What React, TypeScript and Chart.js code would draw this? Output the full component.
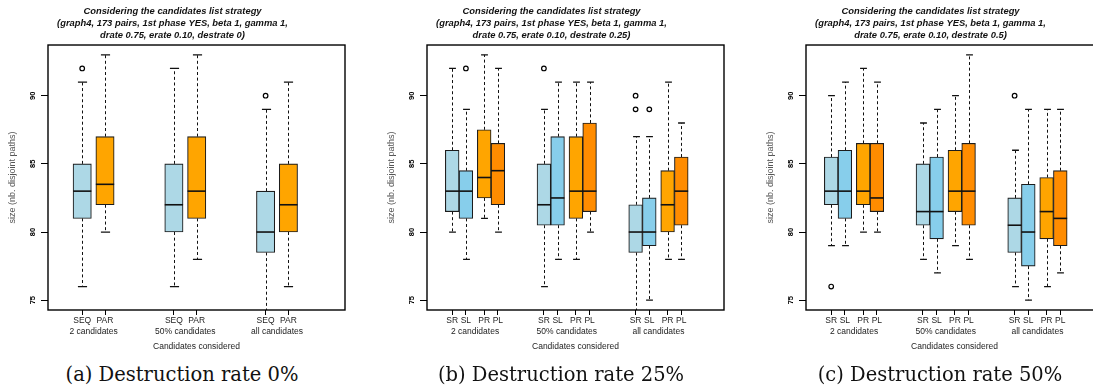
import React, { useEffect, useRef } from 'react';
import { Chart, registerables } from 'chart.js';

Chart.register(...registerables);
Chart.defaults.font.family = '"Liberation Sans", Arial, Helvetica, sans-serif';

// ---------------- data ----------------
const GROUPS = ['2 candidates', '50% candidates', 'all candidates'];
const Y_TICKS = [75, 80, 85, 90];
const Y_MIN = 74.28;
const Y_MAX = 93.72;
const TITLE_LINE1 = 'Considering the candidates list strategy';
const TITLE_LINE2 = '(graph4, 173 pairs, 1st phase YES, beta 1, gamma 1,';

// [lower whisker, Q1, median, Q3, upper whisker] per group
const A_SEQ = [[76, 81, 83, 85, 91], [76, 80, 82, 85, 92], [74, 78.5, 80, 83, 89]];
const A_PAR = [[80, 82, 83.5, 87, 93], [78, 81, 83, 87, 93], [76, 80, 82, 85, 91]];
const A_SEQ_OUT = [[92], [], [90]];
const A_PAR_OUT = [[], [], []];

const B_SR = [[80, 81.5, 83, 86, 92], [76, 80.5, 82, 85, 89], [74, 78.5, 80, 82, 87]];
const B_SL = [[78, 81, 83, 84.5, 89], [78, 80.5, 82.5, 87, 91], [75, 79, 80, 82.5, 87]];
const B_PR = [[81, 82.5, 84, 87.5, 93], [78, 81, 83, 87, 91], [78, 80, 82, 84.5, 91]];
const B_PL = [[80, 82, 84.5, 86.5, 92], [80, 81.5, 83, 88, 91], [78, 80.5, 83, 85.5, 88]];
const B_SR_OUT = [[], [92], [90, 89]];
const B_SL_OUT = [[92], [], [89]];
const B_PR_OUT = [[], [], []];
const B_PL_OUT = [[], [], []];

const C_SR = [[79, 82, 83, 85.5, 90], [78, 80.5, 81.5, 85, 88], [76, 78.5, 80.5, 82.5, 86]];
const C_SL = [[79, 81, 83, 86, 91], [77, 79.5, 81.5, 85.5, 89], [75, 77.5, 80, 83.5, 89]];
const C_PR = [[80, 82, 83, 86.5, 92], [79, 81.5, 83, 86, 90], [76, 79.5, 81.5, 84, 89]];
const C_PL = [[80, 81.5, 82.5, 86.5, 91], [78, 80.5, 83, 86.5, 93], [77, 79, 81, 84.5, 89]];
const C_SR_OUT = [[76], [], [90]];
const C_SL_OUT = [[], [], []];
const C_PR_OUT = [[], [], []];
const C_PL_OUT = [[], [], []];

// ---------------- layout ----------------
const FRAME_W = 297;
const GROUP_STEP = 91.7;
const PAIR_OFFSETS = [34.2, 57.0];
const QUAD_OFFSETS = [25.2, 38.9, 57.2, 70.9];
const AXIS_W = 48;
const CANVAS_W = AXIS_W * 2 + FRAME_W;
const CANVAS_H = 360;

const LIGHTBLUE = '#ADD8E6';
const SKYBLUE = '#87CEEB';
const ORANGE = '#FFA500';
const DARKORANGE = '#FF8C00';

type Method = { label: string; color: string; stats: number[][]; out: number[][] };
type PanelDef = { left: number; line3: string; caption: string; boxWidth: number; offsets: number[]; methods: Method[] };

const PANELS: PanelDef[] = [
  {
    left: 0, line3: 'drate 0.75, erate 0.10, destrate 0)', caption: '(a) Destruction rate 0%', boxWidth: 18.3, offsets: PAIR_OFFSETS,
    methods: [
      { label: 'SEQ', color: LIGHTBLUE, stats: A_SEQ, out: A_SEQ_OUT },
      { label: 'PAR', color: ORANGE, stats: A_PAR, out: A_PAR_OUT },
    ],
  },
  {
    left: 379, line3: 'drate 0.75, erate 0.10, destrate 0.25)', caption: '(b) Destruction rate 25%', boxWidth: 13.7, offsets: QUAD_OFFSETS,
    methods: [
      { label: 'SR', color: LIGHTBLUE, stats: B_SR, out: B_SR_OUT },
      { label: 'SL', color: SKYBLUE, stats: B_SL, out: B_SL_OUT },
      { label: 'PR', color: ORANGE, stats: B_PR, out: B_PR_OUT },
      { label: 'PL', color: DARKORANGE, stats: B_PL, out: B_PL_OUT },
    ],
  },
  {
    left: 758, line3: 'drate 0.75, erate 0.10, destrate 0.5)', caption: '(c) Destruction rate 50%', boxWidth: 13.7, offsets: QUAD_OFFSETS,
    methods: [
      { label: 'SR', color: LIGHTBLUE, stats: C_SR, out: C_SR_OUT },
      { label: 'SL', color: SKYBLUE, stats: C_SL, out: C_SL_OUT },
      { label: 'PR', color: ORANGE, stats: C_PR, out: C_PR_OUT },
      { label: 'PL', color: DARKORANGE, stats: C_PL, out: C_PL_OUT },
    ],
  },
];

function Panel({ p }: { p: PanelDef }) {
  const ref = useRef<HTMLCanvasElement>(null);
  useEffect(() => {
    const pos = (gi: number, mi: number) => gi * GROUP_STEP + p.offsets[mi];
    const tickPos: number[] = [];
    const tickLabels: string[] = [];
    GROUPS.forEach((_, gi) => p.methods.forEach((m, mi) => { tickPos.push(pos(gi, mi)); tickLabels.push(m.label); }));
    const groupPos = GROUPS.map((_, gi) => (pos(gi, 0) + pos(gi, p.methods.length - 1)) / 2);

    const datasets: any[] = p.methods.map((m, mi) => ({
      type: 'bar',
      label: m.label,
      data: m.stats.map((s, gi) => ({ x: pos(gi, mi), y: [s[1], s[3]] })),
      backgroundColor: m.color,
      borderColor: '#1c1c1c',
      borderWidth: 1.1,
      borderSkipped: false,
      barThickness: p.boxWidth,
      grouped: false,
    }));
    const outData: { x: number; y: number }[] = [];
    p.methods.forEach((m, mi) => m.out.forEach((vals, gi) => vals.forEach((v) => outData.push({ x: pos(gi, mi), y: v }))));
    datasets.push({
      type: 'line',
      label: 'outliers',
      data: outData,
      showLine: false,
      pointStyle: 'circle',
      pointRadius: 2.3,
      pointBorderWidth: 1.2,
      pointBorderColor: '#000',
      pointBackgroundColor: 'rgba(0,0,0,0)',
      borderColor: '#000',
      backgroundColor: 'rgba(0,0,0,0)',
    });

    const extras = {
      id: 'boxExtras',
      beforeDatasetsDraw(chart: any) {
        const { ctx, chartArea: a, scales } = chart;
        const x = scales.x, y = scales.y;
        ctx.save();
        ctx.beginPath();
        ctx.rect(a.left, a.top, a.right - a.left, a.bottom - a.top);
        ctx.clip();
        ctx.strokeStyle = '#111';
        p.methods.forEach((m, mi) => m.stats.forEach((s, gi) => {
          const cx = Math.round(x.getPixelForValue(pos(gi, mi))) + 0.5;
          const yMin = y.getPixelForValue(s[0]);
          const yQ1 = y.getPixelForValue(s[1]);
          const yQ3 = y.getPixelForValue(s[3]);
          const yMax = y.getPixelForValue(s[4]);
          ctx.lineWidth = 1;
          ctx.setLineDash([3, 2.6]);
          ctx.beginPath();
          ctx.moveTo(cx, yQ3); ctx.lineTo(cx, yMax);
          ctx.moveTo(cx, yQ1); ctx.lineTo(cx, yMin);
          ctx.stroke();
          ctx.setLineDash([]);
          const hw = p.boxWidth / 4;
          ctx.lineWidth = 1.3;
          ctx.beginPath();
          ctx.moveTo(cx - hw, yMax); ctx.lineTo(cx + hw, yMax);
          ctx.moveTo(cx - hw, yMin); ctx.lineTo(cx + hw, yMin);
          ctx.stroke();
        }));
        ctx.restore();
      },
      afterDatasetsDraw(chart: any) {
        const { ctx, scales } = chart;
        const x = scales.x, y = scales.y;
        ctx.save();
        ctx.strokeStyle = '#111';
        ctx.lineWidth = 1.6;
        p.methods.forEach((m, mi) => m.stats.forEach((s, gi) => {
          const cx = x.getPixelForValue(pos(gi, mi));
          const ym = y.getPixelForValue(s[2]);
          ctx.beginPath();
          ctx.moveTo(cx - p.boxWidth / 2, ym);
          ctx.lineTo(cx + p.boxWidth / 2, ym);
          ctx.stroke();
        }));
        ctx.restore();
      },
      afterDraw(chart: any) {
        const { ctx, chartArea: a, scales } = chart;
        const y = scales.y;
        ctx.save();
        ctx.strokeStyle = '#000';
        ctx.lineWidth = 1.4;
        ctx.strokeRect(a.left, a.top, a.right - a.left, a.bottom - a.top);
        ctx.fillStyle = '#000';
        ctx.font = 'bold 7.5px "Liberation Sans", Arial, sans-serif';
        ctx.textAlign = 'center';
        ctx.textBaseline = 'middle';
        y.ticks.forEach((t: any) => {
          const py = y.getPixelForValue(t.value);
          ctx.save();
          ctx.translate(33, py);
          ctx.rotate(-Math.PI / 2);
          ctx.fillText(String(t.value), 0, 0);
          ctx.restore();
        });
        ctx.restore();
      },
    };

    const chart = new Chart(ref.current as HTMLCanvasElement, {
      type: 'bar',
      data: { datasets },
      plugins: [extras],
      options: {
        responsive: false,
        animation: false,
        devicePixelRatio: 1,
        layout: { padding: { left: 0, right: AXIS_W, top: 0, bottom: 0 } },
        plugins: {
          legend: { display: false },
          tooltip: { enabled: false },
          title: {
            display: true,
            text: [TITLE_LINE1, TITLE_LINE2, p.line3],
            color: '#111',
            font: { size: 9.4, weight: 'bold', style: 'italic', lineHeight: 1.245 },
            padding: { top: 6, bottom: 3.9 },
          },
        },
        scales: {
          x: {
            type: 'linear', position: 'bottom', min: 0, max: FRAME_W, offset: false, weight: 0, bounds: 'data',
            afterBuildTicks: (s: any) => { s.ticks = tickPos.map((v) => ({ value: v })); },
            afterFit: (s: any) => { s.height = 17; },
            ticks: {
              autoSkip: false, maxRotation: 0, minRotation: 0, padding: 1, color: '#222', font: { size: 8.5 },
              callback: (_v: any, i: number) => tickLabels[i],
            },
            grid: { drawOnChartArea: false, drawTicks: true, tickLength: 5, color: '#000', offset: false },
            border: { display: false },
          },
          x2: {
            type: 'linear', position: 'bottom', min: 0, max: FRAME_W, offset: false, weight: 1, bounds: 'data',
            afterBuildTicks: (s: any) => { s.ticks = groupPos.map((v) => ({ value: v })); },
            afterFit: (s: any) => { s.height = 33; },
            ticks: {
              autoSkip: false, maxRotation: 0, minRotation: 0, padding: 0, color: '#222', font: { size: 8.5 },
              callback: (_v: any, i: number) => GROUPS[i],
            },
            grid: { display: false, drawTicks: false },
            border: { display: false },
            title: {
              display: true, text: 'Candidates considered', color: '#222', font: { size: 8.5 },
              padding: { top: 0, bottom: 8.2 },
            },
          },
          y: {
            type: 'linear', position: 'left', min: Y_MIN, max: Y_MAX, beginAtZero: false, bounds: 'data',
            afterBuildTicks: (s: any) => { s.ticks = Y_TICKS.map((v) => ({ value: v })); },
            afterFit: (s: any) => { s.width = AXIS_W; },
            ticks: { display: false },
            grid: { drawOnChartArea: false, drawTicks: true, tickLength: 7, color: '#000' },
            border: { display: false },
            title: {
              display: true, text: 'size (nb. disjoint paths)', color: '#555', font: { size: 9 },
              padding: { top: 7.6, bottom: 0 },
            },
          },
        },
      } as any,
    });
    return () => chart.destroy();
  }, [p]);

  return (
    <>
      <canvas
        ref={ref}
        width={CANVAS_W}
        height={CANVAS_H}
        style={{ position: 'absolute', left: p.left, top: 0, width: CANVAS_W, height: CANVAS_H, display: 'block' }}
      />
      <div
        style={{
          position: 'absolute',
          left: p.left + AXIS_W + FRAME_W / 2 - 14.5,
          top: 365,
          transform: 'translateX(-50%)',
          whiteSpace: 'nowrap',
          font: '19.5px "DejaVu Serif", serif',
          lineHeight: '20px',
          color: '#111',
        }}
      >
        {p.caption}
      </div>
    </>
  );
}

export default function App() {
  return (
    <div style={{ position: 'fixed', left: 0, top: 0, width: 1093, height: 386, overflow: 'hidden', background: '#fff' }}>
      {PANELS.map((p, i) => (
        <Panel key={i} p={p} />
      ))}
    </div>
  );
}
